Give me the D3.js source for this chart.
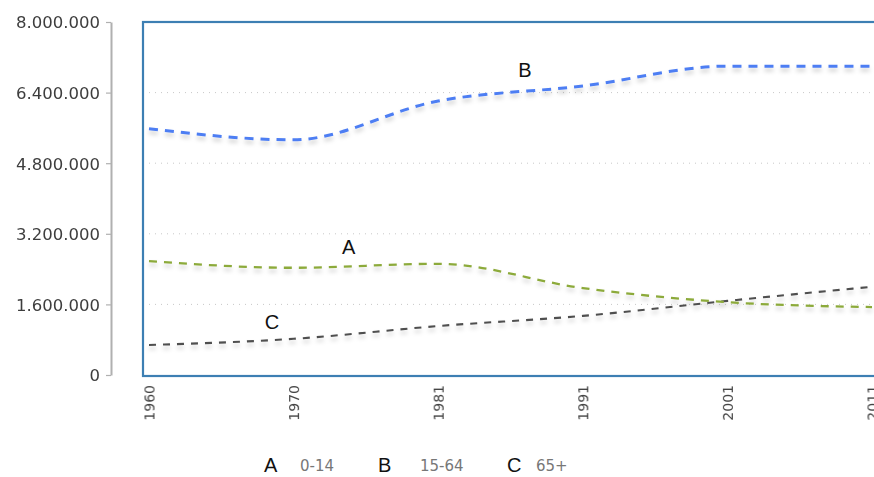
<!DOCTYPE html>
<html>
<head>
<meta charset="utf-8">
<script src="https://cdn.jsdelivr.net/npm/d3@7"></script>
<style>
  html, body { margin: 0; padding: 0; background: #fff; overflow: hidden; }
  svg { display: block; }
</style>
</head>
<body>
<svg id="chart" width="874" height="477"></svg>
<script>
// Population by age group, census years
const years = ["1960", "1970", "1981", "1991", "2001", "2011"];
const age0to14 = [2580000, 2430000, 2520000, 1970000, 1650000, 1540000];
const age15to64 = [5580000, 5330000, 6210000, 6550000, 7000000, 7000000];
const age65plus = [680000, 820000, 1110000, 1340000, 1680000, 2000000];
const yTicks = [0, 1600000, 3200000, 4800000, 6400000, 8000000];
const seriesKeys = ["A", "B", "C"];
const seriesNames = ["0-14", "15-64", "65+"];
const seriesColors = ["#8caa3a", "#4d7ef3", "#4f4f4f"];
// where each letter sits along its line: [position between years, value]
const letterSpots = [[1.38, 2740000], [2.6, 6750000], [0.85, 1040000]];

const seriesValues = [age0to14, age15to64, age65plus];

const svg = d3.select("#chart");

const x = d3.scalePoint().domain(years).range([149, 872]);
const xi = d3.scaleLinear().domain([0, years.length - 1]).range([149, 872]);
const y = d3.scaleLinear().domain([0, 8000000]).range([375, 22]);

const defs = svg.append("defs");
const shadow = defs.append("filter").attr("id", "shade")
  .attr("x", "-5%").attr("y", "-50%").attr("width", "110%").attr("height", "200%");
shadow.append("feDropShadow").attr("dx", 0).attr("dy", 3.5).attr("stdDeviation", 2)
  .attr("flood-color", "#000").attr("flood-opacity", 0.2);
const soft = defs.append("filter").attr("id", "soft");
soft.append("feGaussianBlur").attr("stdDeviation", 0.35);

const fmt = v => d3.format(",")(v).replace(/,/g, ".");

// Left value axis
const yAxis = d3.axisLeft(y).tickValues(yTicks).tickFormat(fmt).tickSize(5).tickSizeOuter(0).tickPadding(6);
const ya = svg.append("g").attr("transform", "translate(111,0)").call(yAxis);
ya.select(".domain").attr("stroke", "#b0b0b0").attr("stroke-width", 2);
ya.selectAll(".tick line").attr("stroke", "#b0b0b0").attr("stroke-width", 1.2);
ya.selectAll(".tick text")
  .attr("font-family", "DejaVu Sans, Verdana, sans-serif")
  .attr("font-size", 16.5).attr("fill", "#3e3e3e").attr("dy", "0.36em")
  .attr("filter", "url(#soft)");

// Plot frame
svg.append("rect").attr("x", 143).attr("y", 22).attr("width", 760).attr("height", 354)
  .attr("fill", "none").attr("stroke", "#3d7fb3").attr("stroke-width", 2.2);

// Dotted grid
svg.append("g").selectAll("line").data(yTicks.filter(v => v > 0 && v < 8000000)).join("line")
  .attr("x1", 149).attr("x2", 874)
  .attr("y1", d => y(d)).attr("y2", d => y(d))
  .attr("stroke", "#c8c8c8").attr("stroke-width", 1).attr("stroke-dasharray", "1,5");

// Year labels
const xAxis = d3.axisBottom(x).tickSize(0).tickPadding(0);
const xa = svg.append("g").attr("transform", "translate(0,385)").call(xAxis);
xa.select(".domain").remove();
xa.selectAll(".tick text")
  .attr("font-family", "DejaVu Sans, Verdana, sans-serif")
  .attr("font-size", 14).attr("fill", "#454545")
  .attr("transform", "rotate(-90)")
  .attr("text-anchor", "end").attr("x", 0).attr("y", 0).attr("dy", "0.36em")
  .attr("filter", "url(#soft)");

// Series lines
const line = d3.line().x((d, i) => x(years[i])).y(d => y(d)).curve(d3.curveMonotoneX);
const widths = [2.3, 3, 2.1];
const dashes = ["8,7", "9,7", "7,7"];
const order = [2, 0, 1];
order.forEach(k => {
  svg.append("path").datum(seriesValues[k])
    .attr("d", line)
    .attr("fill", "none")
    .attr("stroke", seriesColors[k])
    .attr("stroke-width", widths[k])
    .attr("stroke-dasharray", dashes[k])
    .attr("filter", "url(#shade)");
});

// Letters on the lines
svg.append("g").selectAll("text").data(seriesKeys).join("text")
  .attr("x", (d, i) => xi(letterSpots[i][0]))
  .attr("y", (d, i) => y(letterSpots[i][1]))
  .attr("text-anchor", "middle")
  .attr("font-family", "Liberation Sans, Arial, sans-serif")
  .attr("font-size", 20).attr("fill", "#111")
  .text(d => d);

// Legend
const legendX = [[264, 300], [378, 420], [507, 536]];
const lg = svg.append("g");
seriesKeys.forEach((k, i) => {
  lg.append("text").attr("x", legendX[i][0]).attr("y", 472)
    .attr("font-family", "Liberation Sans, Arial, sans-serif").attr("font-size", 20).attr("fill", "#111").text(k);
  lg.append("text").attr("x", legendX[i][1]).attr("y", 471)
    .attr("font-family", "DejaVu Sans, Verdana, sans-serif").attr("font-size", 15).attr("fill", "#777")
    .text(seriesNames[i]);
});
</script>
</body>
</html>
